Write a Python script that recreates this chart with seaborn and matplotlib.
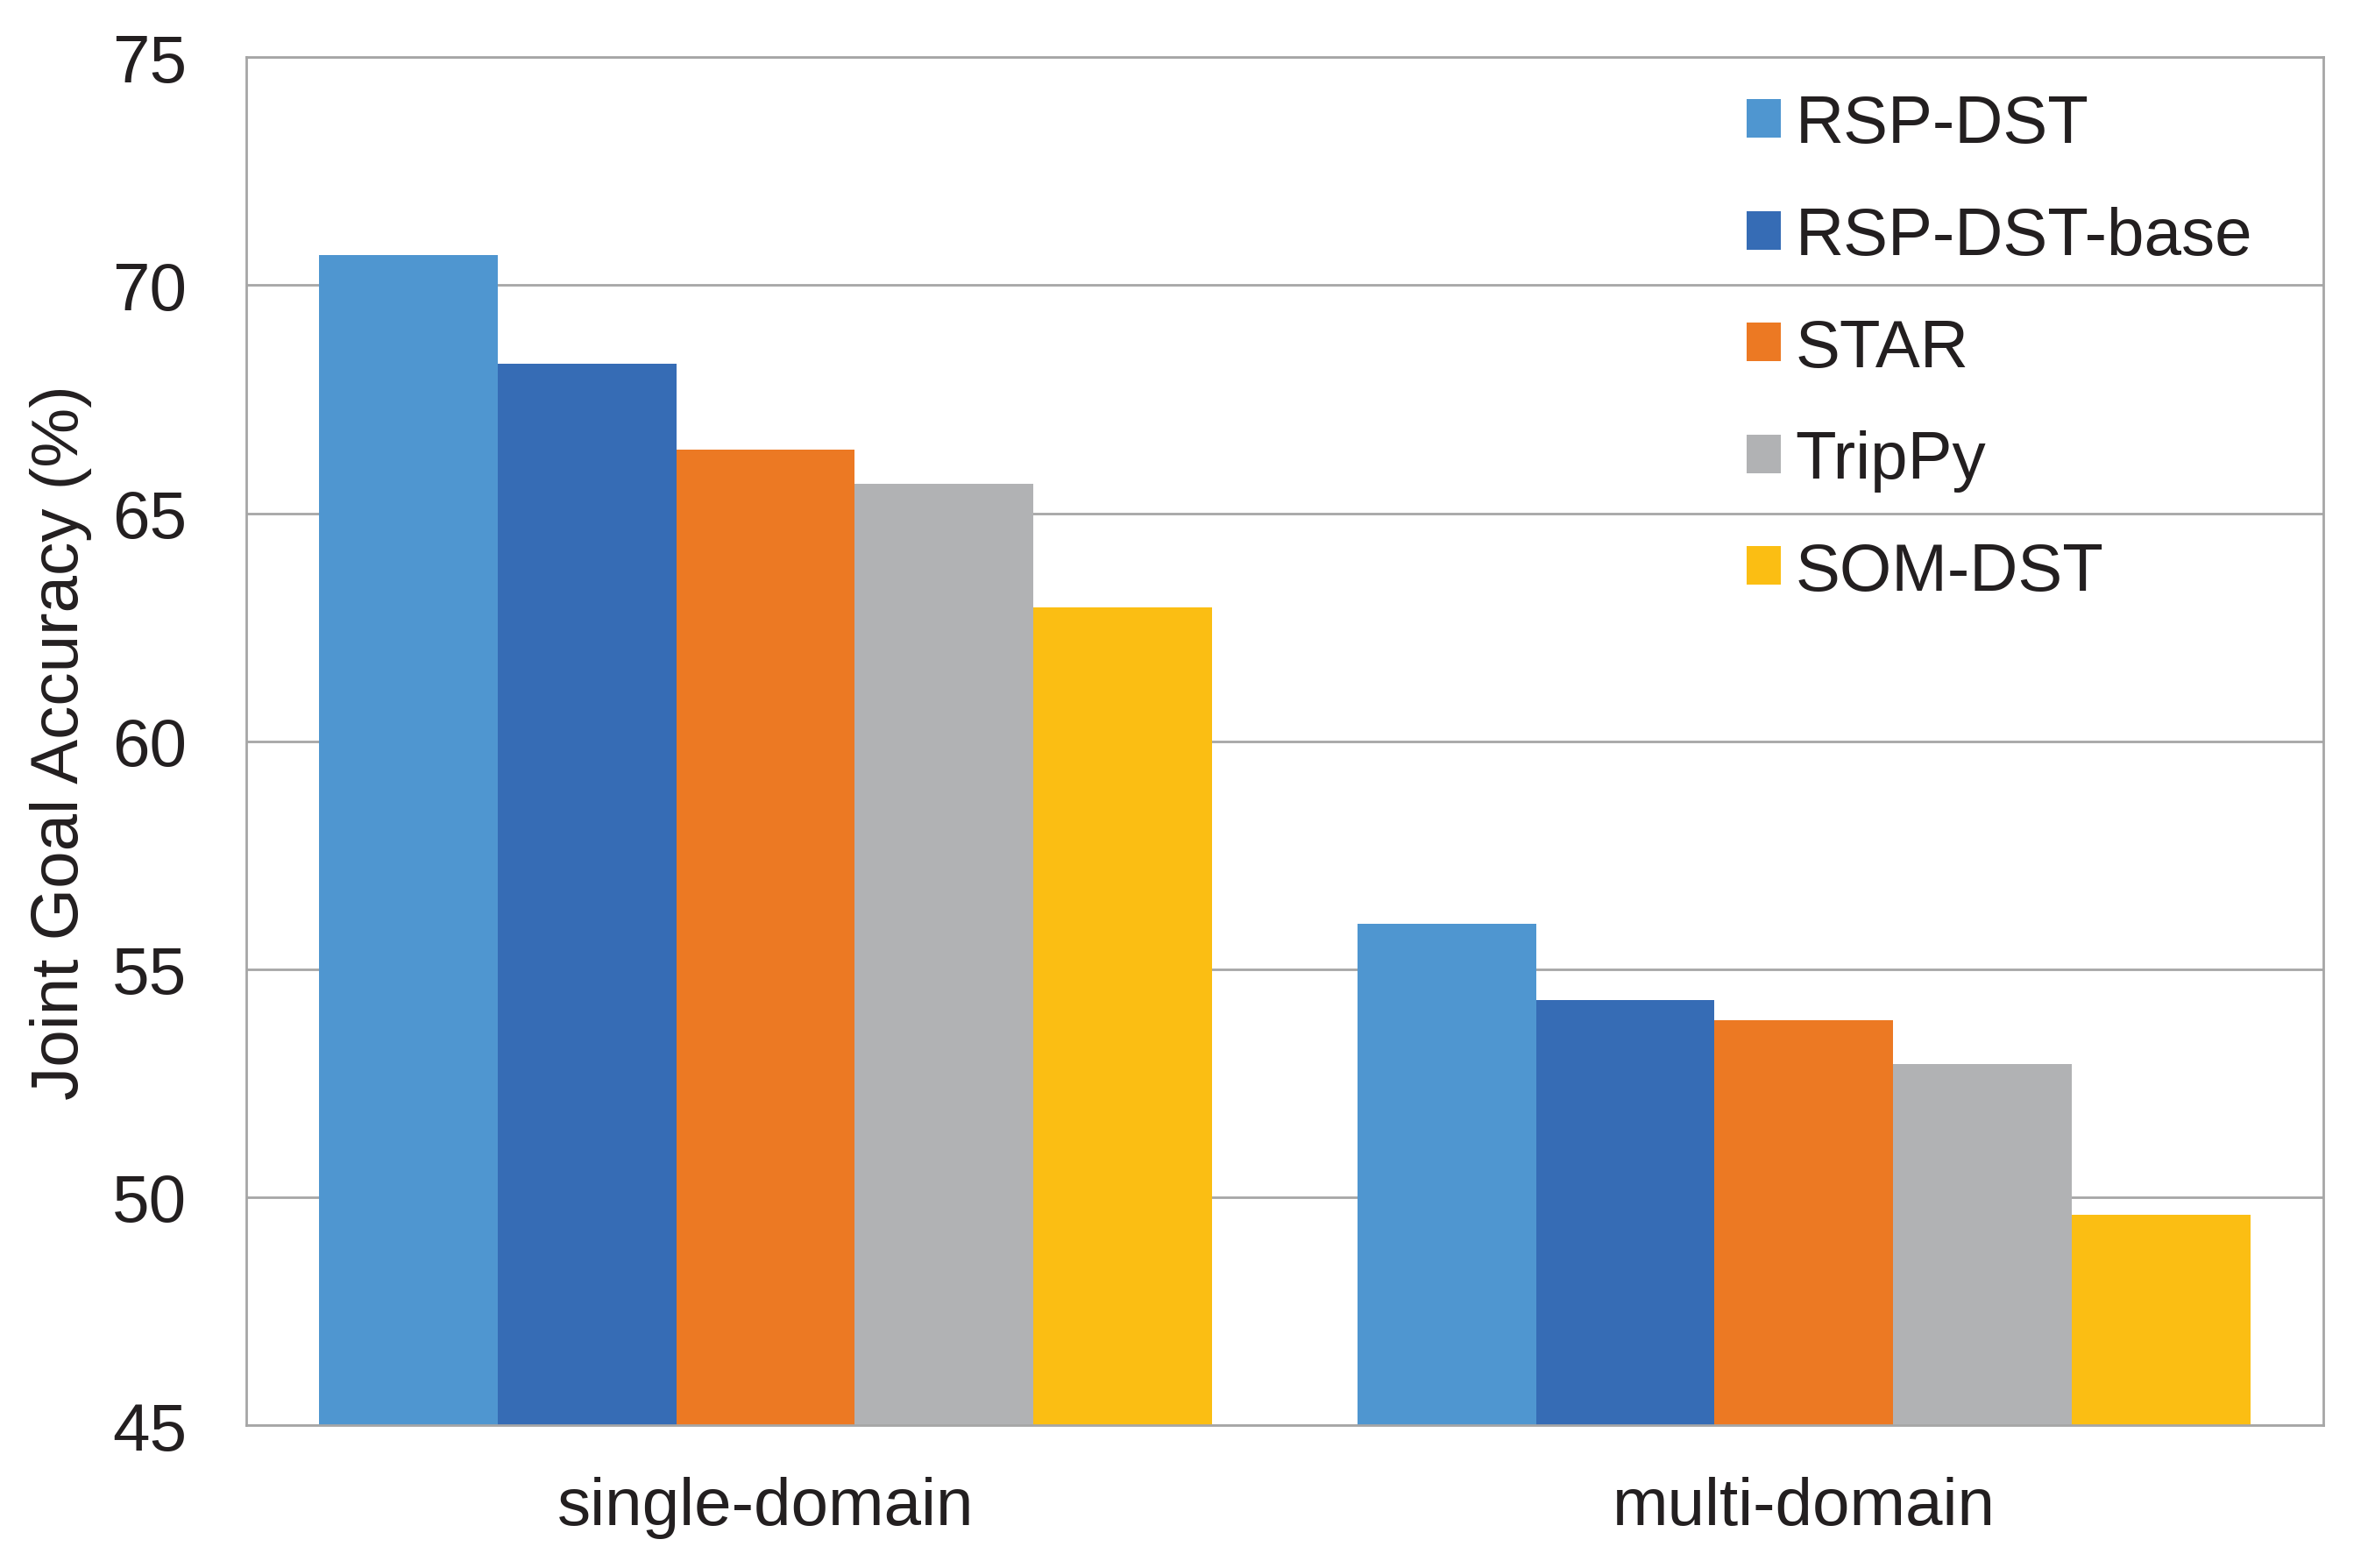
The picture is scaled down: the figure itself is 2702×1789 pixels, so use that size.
import matplotlib
matplotlib.use("Agg")
import matplotlib.pyplot as plt
import seaborn as sns
import pandas as pd
from matplotlib.patches import Patch

categories = ["single-domain", "multi-domain"]
models = ["RSP-DST", "RSP-DST-base", "STAR", "TripPy", "SOM-DST"]
rsp_dst = [70.67, 55.99]
rsp_dst_base = [68.28, 54.33]
star = [66.40, 53.89]
trippy = [65.65, 52.93]
som_dst = [62.94, 49.62]
colors = ["#4F96D0", "#366CB5", "#EC7923", "#B1B2B4", "#FBBE13"]
yticks = [45, 50, 55, 60, 65, 70, 75]

series = [rsp_dst, rsp_dst_base, star, trippy, som_dst]
rows = []
for m, vals in zip(models, series):
    for c, v in zip(categories, vals):
        rows.append({"category": c, "model": m, "value": v})
df = pd.DataFrame(rows)

sns.set_theme(style="white")
plt.rcParams["font.family"] = ["Liberation Sans", "DejaVu Sans"]

FS = 27.5
TXT = "#231F20"

fig = plt.figure(figsize=(13.51, 8.95), dpi=200)
ax = fig.add_axes([0.104, 0.091, 0.877, 0.872])

sns.barplot(data=df, x="category", y="value", hue="model", order=categories,
            hue_order=models, palette=colors, saturation=1, width=0.86, gap=0,
            linewidth=0, ax=ax, legend=False)

ax.set_ylim(45, 75)
ax.set_xlim(-0.5, 1.5)
ax.set_yticks(yticks)
ax.set_yticklabels([str(t) for t in yticks], fontsize=FS, color=TXT)
ax.tick_params(axis="x", labelsize=FS, colors=TXT, length=0, pad=21)
ax.tick_params(axis="y", length=0, pad=24.5)
for lbl in ax.get_xticklabels():
    lbl.set_color(TXT)
ax.set_xlabel("")
ax.set_ylabel("Joint Goal Accuracy (%)", fontsize=FS, color=TXT, labelpad=8)
ax.yaxis.grid(True, color="#A6A6A6", linewidth=1.0)
ax.set_axisbelow(True)
for s in ax.spines.values():
    s.set_color("#A6A6A6")
    s.set_linewidth(1.0)

handles = [Patch(facecolor=c, edgecolor="none") for c in colors]
ax.legend(handles, models, loc="upper right", bbox_to_anchor=(0.995, 1.017),
          frameon=False, fontsize=FS, handlelength=0.51, handleheight=0.51,
          handletextpad=0.22, labelspacing=0.74, labelcolor=TXT)

fig.savefig("out.png", dpi=200)
